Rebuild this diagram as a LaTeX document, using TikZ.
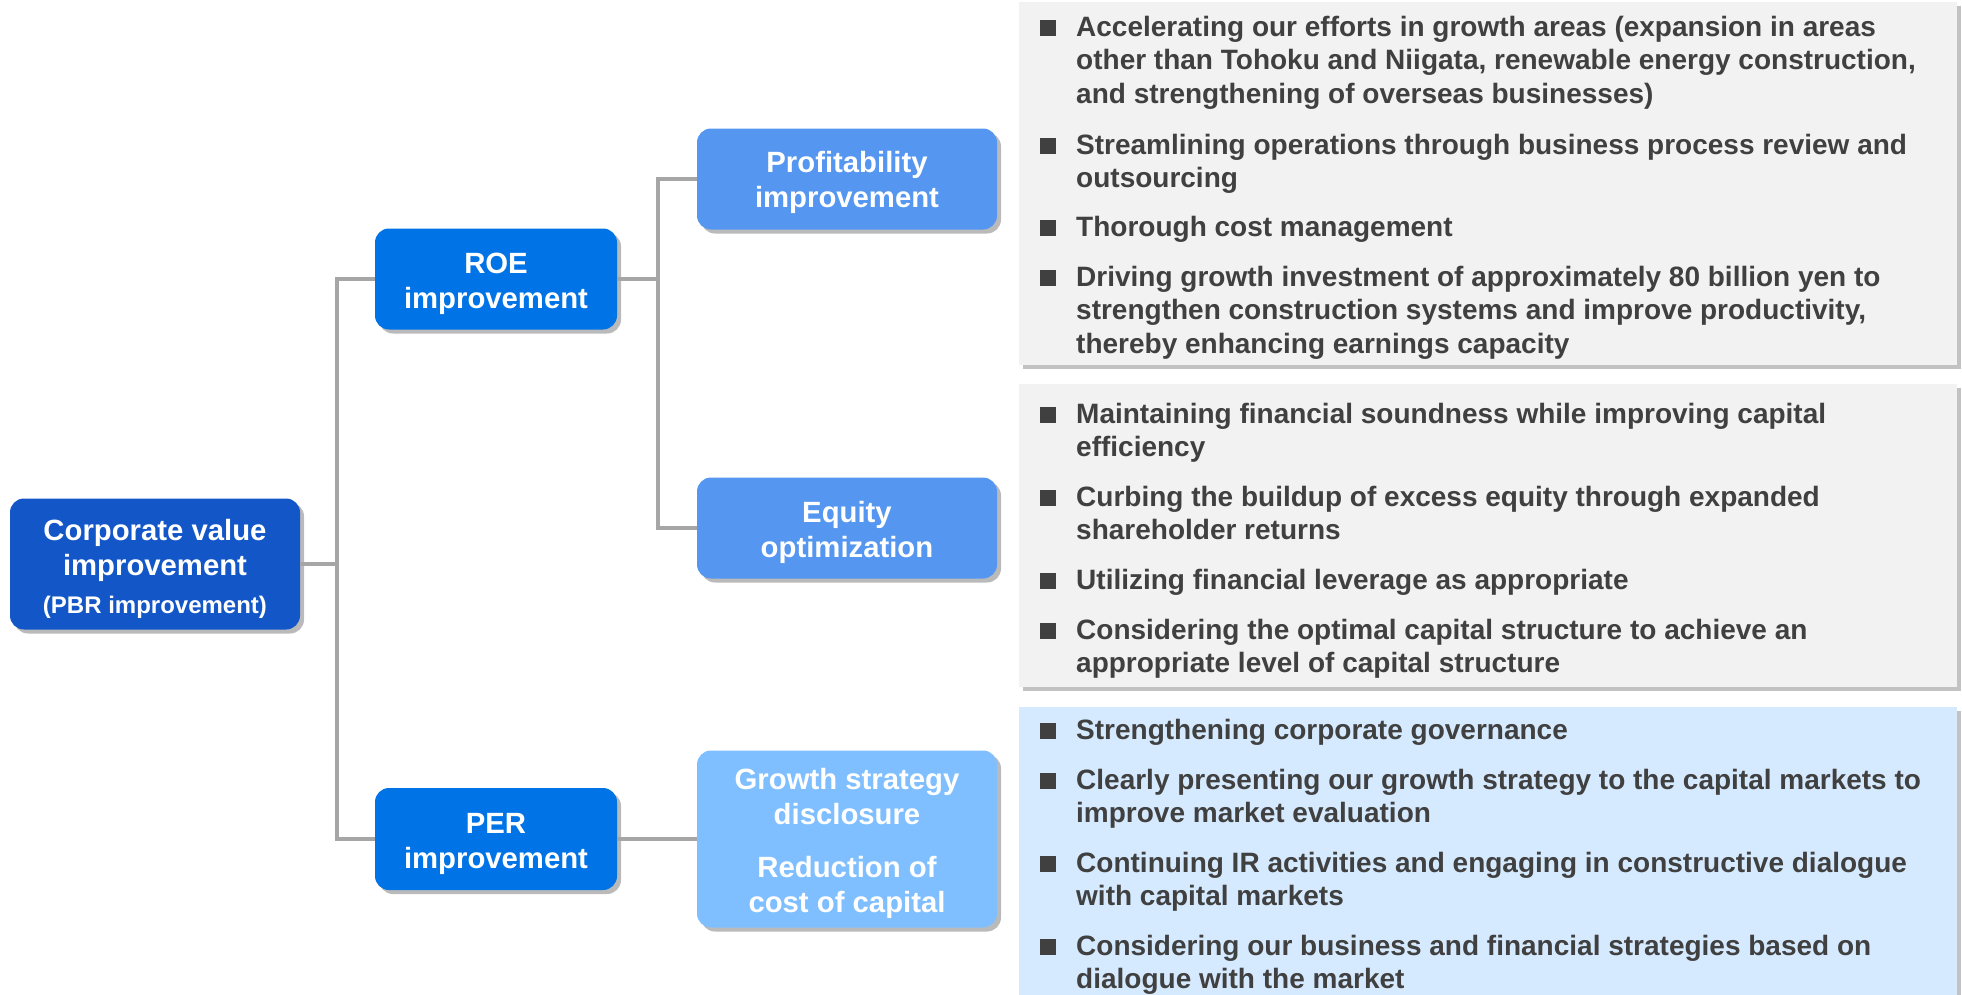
\documentclass[tikz,border=0pt]{standalone}
\usepackage{fontspec}
\setmainfont{Liberation Sans}
\usetikzlibrary{shadows}
\definecolor{cdark}{HTML}{1256C8}
\definecolor{cmid}{HTML}{0073E6}
\definecolor{clight}{HTML}{5596F0}
\definecolor{cpale}{HTML}{80BFFF}
\definecolor{cpanel}{HTML}{F2F2F2}
\definecolor{cpanelb}{HTML}{D6EAFF}
\definecolor{ctext}{HTML}{404040}
\definecolor{cline}{HTML}{A6A6A6}
\newcommand\mybul[1]{\raisebox{0.5pt}{\rule{16pt}{16pt}}\hspace{20pt}\parbox[t]{880pt}{\raggedright #1}}
\newcommand\tstrut{\rule{0pt}{31pt}}
\begin{document}
\begin{tikzpicture}[x=1pt,y=-1pt,
  box/.style={rounded corners=14pt, text=white, align=center, inner sep=0pt,
    font=\fontsize{29.3}{35}\selectfont\bfseries,
    drop shadow={shadow xshift=4pt, shadow yshift=-4pt, opacity=0.45, fill=black!60}},
  panel/.style={anchor=north west, inner sep=0pt,
    drop shadow={shadow xshift=4pt, shadow yshift=-4pt, opacity=0.4, fill=black!60}},
  item/.style={anchor=base west, inner sep=0pt, text=ctext,
    font=\fontsize{28}{33.5}\selectfont\bfseries},
  conn/.style={draw=cline, line width=4pt}]
\useasboundingbox (0,0) rectangle (1962,994);

% panels
\node[panel, fill=cpanel, minimum width=938pt, minimum height=363pt] (p1) at (1019,2) {};
\node[panel, fill=cpanel, minimum width=938pt, minimum height=303pt] (p2) at (1019,384) {};
\node[panel, fill=cpanelb, minimum width=938pt, minimum height=320pt] (p3) at (1019,707) {};

\coordinate (j1) at (337,564);
\coordinate (j2) at (658,279);
\node[box, fill=cdark, minimum width=290pt, minimum height=131pt] (corp) at (155,564)
  {\tstrut Corporate value\\improvement\\[3pt]{\fontsize{24}{28}\selectfont(PBR improvement)}};
\node[box, fill=cmid, minimum width=242pt, minimum height=101pt] (roe) at (496,279) {\tstrut ROE\\improvement};
\node[box, fill=cmid, minimum width=242pt, minimum height=102pt] (per) at (496,839) {\tstrut PER\\improvement};
\node[box, fill=clight, minimum width=300pt, minimum height=101pt] (prof) at (847,179) {\rule{0pt}{28pt}Profitability\\improvement};
\node[box, fill=clight, minimum width=300pt, minimum height=101pt] (eq) at (847,528) {\tstrut Equity\\optimization};
\node[box, fill=cpale, minimum width=300pt, minimum height=177pt] (gro) at (847,839)
  {\tstrut Growth strategy\\disclosure\\[18pt]Reduction of\\cost of capital};

% connectors
\draw[conn] (corp.east) -- (j1);
\draw[conn] (j1) |- (roe.west);
\draw[conn] (j1) |- (per.west);
\draw[conn] (roe.east) -- (j2);
\draw[conn] (j2) |- (prof.west);
\draw[conn] (j2) |- (eq.west);
\draw[conn] (per.east) -- (gro.west);

% panel 1 items
\node[item] (a1) at (1040,36) {\mybul{Accelerating our efforts in growth areas (expansion in areas\\other than Tohoku and Niigata, renewable energy construction,\\and strengthening of overseas businesses)}};
\node[item] (a2) at (1040,154) {\mybul{Streamlining operations through business process review and\\outsourcing}};
\node[item] (a3) at (1040,236) {\mybul{Thorough cost management}};
\node[item] (a4) at (1040,286) {\mybul{Driving growth investment of approximately 80 billion yen to\\strengthen construction systems and improve productivity,\\thereby enhancing earnings capacity}};

% panel 2 items
\node[item] (b1) at (1040,423) {\mybul{Maintaining financial soundness while improving capital\\efficiency}};
\node[item] (b2) at (1040,506) {\mybul{Curbing the buildup of excess equity through expanded\\shareholder returns}};
\node[item] (b3) at (1040,589) {\mybul{Utilizing financial leverage as appropriate}};
\node[item] (b4) at (1040,639) {\mybul{Considering the optimal capital structure to achieve an\\appropriate level of capital structure}};

% panel 3 items
\node[item] (c1) at (1040,739) {\mybul{Strengthening corporate governance}};
\node[item] (c2) at (1040,789) {\mybul{Clearly presenting our growth strategy to the capital markets to\\improve market evaluation}};
\node[item] (c3) at (1040,872) {\mybul{Continuing IR activities and engaging in constructive dialogue\\with capital markets}};
\node[item] (c4) at (1040,955) {\mybul{Considering our business and financial strategies based on\\dialogue with the market}};
\end{tikzpicture}
\end{document}
